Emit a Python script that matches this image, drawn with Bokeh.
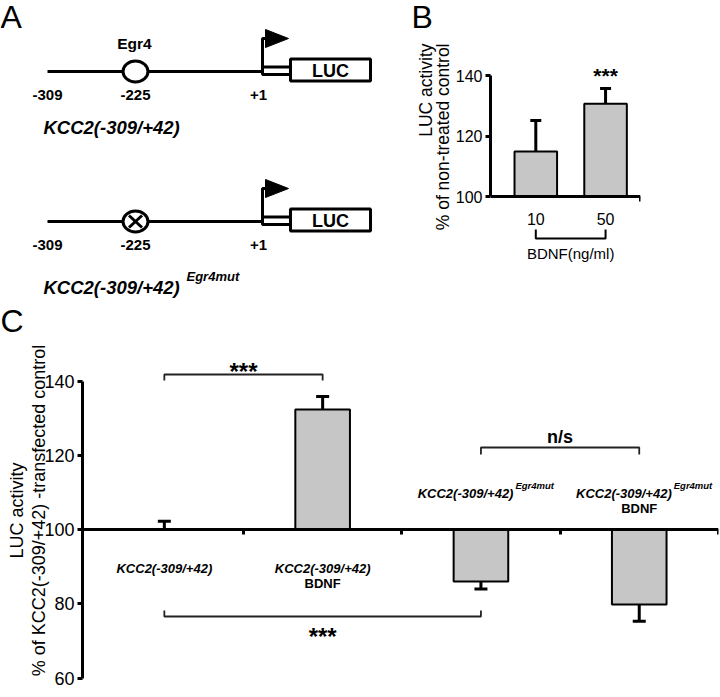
import math
from bokeh.plotting import figure
from bokeh.layouts import column, row
from bokeh.models import Range1d, FixedTicker, LinearAxis
from bokeh.core.properties import value
from bokeh.embed import file_html
from bokeh.resources import INLINE

# ---------------- data ----------------
# Panel A: reporter constructs
a_constructs = ["KCC2(-309/+42)", "KCC2(-309/+42)"]
a_superscripts = ["", "Egr4mut"]
a_site_mutated = [False, True]
a_positions = ["-309", "-225", "+1"]
a_site_name = "Egr4"
a_reporter = "LUC"

# Panel B
b_doses = ["10", "50"]
b_means = [114.9, 130.7]
b_errors = [10.2, 5.0]
b_signif = ["", "***"]
b_xlabel = "BDNF(ng/ml)"
b_ylabel = ["LUC activity", "% of non-treated control"]
b_yticks = [100, 120, 140]

# Panel C
c_constructs = ["KCC2(-309/+42)", "KCC2(-309/+42)", "KCC2(-309/+42)", "KCC2(-309/+42)"]
c_superscripts = ["", "", "Egr4mut", "Egr4mut"]
c_treatments = ["", "BDNF", "", "BDNF"]
c_means = [100.0, 132.3, 86.0, 79.8]
c_errors = [2.2, 3.5, 2.0, 4.5]
c_pairs = [(1, 2), (3, 4), (1, 3)]
c_pair_labels = ["***", "n/s", "***"]
c_ylabel = ["LUC activity", "% of KCC2(-309/+42) -transfected control"]
c_yticks = [60, 80, 100, 120, 140]

# ---------------- helpers ----------------
FONT_NAME = "Liberation Sans"
FONT = value(FONT_NAME)
BAR_FILL = "#c6c6c6"


def put_text(p, xs, ys, texts, size, style="normal", align="center",
             baseline="middle", x_offset=0, angle=0):
    p.text(x=xs, y=ys, text=texts, text_font=FONT,
           text_font_size=value(f"{size}px"), text_font_style=style,
           text_align=align, text_baseline=baseline, text_color="black",
           x_offset=x_offset, angle=angle)


def style_plain(p):
    p.grid.visible = False
    p.outline_line_color = None
    p.background_fill_color = "white"
    p.border_fill_color = "white"


def style_axis(ax, label_size=None, tick_out=5, tick_in=0):
    ax.axis_line_width = 3
    ax.axis_line_color = "black"
    ax.major_tick_line_width = 3
    ax.major_tick_line_color = "black"
    ax.major_tick_out = tick_out
    ax.major_tick_in = tick_in
    ax.minor_tick_out = 0
    ax.minor_tick_in = 0
    ax.minor_tick_line_color = None
    ax.major_label_text_font = FONT_NAME
    ax.major_label_text_color = "black"
    if label_size is None:
        ax.major_label_text_font_size = "0px"
        ax.major_label_text_color = None
        ax.major_label_standoff = 0
        ax.axis_label_standoff = 0
    else:
        ax.major_label_text_font_size = f"{label_size}px"


def style_title(ax, text, size, standoff):
    ax.axis_label = text
    ax.axis_label_text_font = FONT_NAME
    ax.axis_label_text_font_size = f"{size}px"
    ax.axis_label_text_font_style = "normal"
    ax.axis_label_text_color = "black"
    ax.axis_label_text_line_height = 1.0
    ax.axis_label_standoff = standoff


# ================= Panel A (diagram; also holds panel B's letter and y-title) =========
TOP_H = 300       # height of the top row
pA = figure(width=452, height=TOP_H, x_range=Range1d(0, 452),
            y_range=Range1d(TOP_H, 0),
            output_backend="svg", toolbar_location=None, min_border=0,
            x_axis_location=None, y_axis_location=None)
style_plain(pA)

row_y = [71, 221]
pos_x = [47, 135, 258]
site_x = 135
tss_x = 262
luc_l, luc_r = 290, 370
title_y = [127, 287]

for i, y0 in enumerate(row_y):
    pA.segment(x0=[47], y0=[y0], x1=[tss_x], y1=[y0], line_width=3, line_color="black")
    pA.ellipse(x=[site_x], y=[y0], width=25, height=21, fill_color="white",
               line_color="black", line_width=3)
    if a_site_mutated[i]:
        pA.segment(x0=[site_x - 6.5, site_x - 6.5], y0=[y0 - 6, y0 + 6],
                   x1=[site_x + 6.5, site_x + 6.5], y1=[y0 + 6, y0 - 6],
                   line_width=3, line_color="black")
    # transcription start arrow
    pA.line(x=[tss_x, tss_x, 267], y=[y0 + 1, y0 - 33, y0 - 33], line_width=3, line_color="black")
    pA.patch(x=[265, 265, 288], y=[y0 - 42, y0 - 24, y0 - 33], fill_color="black", line_color="black")
    # small exon box and reporter
    pA.quad(left=[tss_x], right=[luc_l], top=[y0 - 4.5], bottom=[y0 + 3], fill_color="white",
            line_color="black", line_width=3)
    pA.quad(left=[luc_l], right=[luc_r], top=[y0 - 12.5], bottom=[y0 + 9.5], fill_color="white",
            line_color="black", line_width=3)
    put_text(pA, [(luc_l + luc_r) / 2], [y0 - 1], [a_reporter], 18, style="bold")
    put_text(pA, pos_x, [y0 + 23] * 3, a_positions, 15, style="bold")
    put_text(pA, [43], [title_y[i]], [a_constructs[i]], 18.5, style="bold italic", align="left")
    if a_superscripts[i]:
        put_text(pA, [186], [title_y[i] - 11], [a_superscripts[i]], 13,
                 style="bold italic", align="left")
    if not a_site_mutated[i]:
        put_text(pA, [site_x - 1], [y0 - 28], [a_site_name], 15.5, style="bold")

put_text(pA, [0], [16], ["A"], 32, align="left")
put_text(pA, [411], [16], ["B"], 32, align="left")
# y-axis title of panel B (two lines, right-aligned at the top end)
put_text(pA, [425.5], [43], [b_ylabel[0]], 17.5, align="right", angle=math.pi / 2)
put_text(pA, [442.5], [43], [b_ylabel[1]], 17.5, align="right", angle=math.pi / 2)

# ================= Panel B =================


def bx(xr):
    return 1 + (xr - 534.6) / 70.23


def by(yr):
    return 100 + (196 - yr) / 3.025


pB = figure(width=268, height=TOP_H, x_range=Range1d(bx(489), bx(640)),
            y_range=Range1d(by(TOP_H), by(0)), x_axis_location="above",
            output_backend="svg", toolbar_location=None,
            min_border_left=37, min_border_right=80, min_border_top=0,
            min_border_bottom=0)
style_plain(pB)

yax = pB.yaxis[0]
yax.bounds = (100, 140)
yax.ticker = FixedTicker(ticks=b_yticks)
style_axis(yax, label_size=16)
yax.major_label_standoff = 3

xax = pB.xaxis[0]
xax.fixed_location = 100
xax.ticker = FixedTicker(ticks=[2.5])
style_axis(xax, tick_out=0, tick_in=5)

b_x = list(range(1, len(b_means) + 1))
pB.vbar(x=b_x, bottom=100, top=b_means, width=0.61, fill_color=BAR_FILL,
        line_color="black", line_width=2)
b_tops = [m + e for m, e in zip(b_means, b_errors)]
pB.segment(x0=b_x, y0=b_means, x1=b_x, y1=b_tops, line_width=3, line_color="black")
pB.scatter(x=b_x, y=b_tops, marker="dash", size=11, line_width=3, line_color="black")

put_text(pB, b_x, [by(218)] * len(b_x), b_doses, 16)
pB.line(x=[b_x[0], b_x[0], b_x[-1], b_x[-1]], y=[by(229), by(238), by(238), by(229)],
        line_width=2, line_color="black")
put_text(pB, [(b_x[0] + b_x[-1]) / 2], [by(253)], [b_xlabel], 15)
for xi, s in zip(b_x, b_signif):
    if s:
        put_text(pB, [xi], [by(72 + 0.15 * 21)], [s], 21, style="bold")

# ================= Panel C =================


def cx(xr):
    return 0.483 + (xr - 82) / 158.3


def cy(yr):
    return 100 + (529 - yr) / 3.7125


pC = figure(width=720, height=697 - TOP_H, x_range=Range1d(cx(82), cx(718)),
            y_range=Range1d(cy(680), cy(340)),
            output_backend="svg", toolbar_location=None,
            min_border_left=82, min_border_right=2, min_border_top=340 - TOP_H,
            min_border_bottom=17)
style_plain(pC)
pC.title.text = "C"
pC.title.text_font = FONT_NAME
pC.title.text_font_size = "32px"
pC.title.text_font_style = "normal"
pC.title.text_color = "black"
pC.title.align = "left"
pC.title.vertical_align = "top"
pC.title.offset = -82
pC.title.standoff = 0

yax = pC.yaxis[0]
yax.bounds = (60, 140)
yax.ticker = FixedTicker(ticks=c_yticks)
style_axis(yax, label_size=18)
yax.major_label_standoff = 3
style_title(yax, c_ylabel[1], 18, -8)

# outer (title-only) axis carrying the first line of the y title
outer = LinearAxis(ticker=FixedTicker(ticks=[]))
style_axis(outer, tick_out=0)
outer.axis_line_color = None
outer.major_tick_line_color = None
style_title(outer, c_ylabel[0], 18, 0)
pC.add_layout(outer, "left")

xax = pC.xaxis[0]
xax.fixed_location = 100
xax.ticker = FixedTicker(ticks=[1.5, 2.5, 3.5, 4.5])
style_axis(xax)

c_x = list(range(1, len(c_means) + 1))
pC.vbar(x=c_x, bottom=100, top=c_means, width=0.345, fill_color=BAR_FILL,
        line_color="black", line_width=2)
c_dir = [1 if m >= 100 else -1 for m in c_means]
c_ends = [m + d * e for m, d, e in zip(c_means, c_dir, c_errors)]
pC.segment(x0=c_x, y0=c_means, x1=c_x, y1=c_ends, line_width=3, line_color="black")
pC.scatter(x=c_x, y=c_ends, marker="dash", size=13, line_width=3, line_color="black")

# category labels (placed on the side opposite to the bar)
for xi, m, name, sup, tr in zip(c_x, c_means, c_constructs, c_superscripts, c_treatments):
    if m >= 100:
        y_main, y_tr = cy(568), cy(583)
    else:
        y_main, y_tr = cy(493), cy(508)
    if sup:
        put_text(pC, [xi], [y_main], [name], 13, style="bold italic", align="right", x_offset=32.5)
        put_text(pC, [xi], [y_main + 8 / 3.7125], [sup], 9.5, style="bold italic", align="left",
                 x_offset=34.5)
    else:
        put_text(pC, [xi], [y_main], [name], 13, style="bold italic")
    if tr:
        put_text(pC, [xi], [y_tr], [tr], 13, style="bold")

# comparison brackets
bracket_y = [374, 447, 616]
bracket_tip = [380, 454, 610]
bracket_lab = [367, 435, 632]
for (a, b), lab, yb, yt, yl in zip(c_pairs, c_pair_labels, bracket_y, bracket_tip, bracket_lab):
    pC.line(x=[a, a, b, b], y=[cy(yt), cy(yb), cy(yb), cy(yt)], line_width=1.8, line_color="#222222")
    if lab == "***":
        put_text(pC, [(a + b) / 2], [cy(yl + 0.15 * 24)], [lab], 24, style="bold")
    else:
        put_text(pC, [(a + b) / 2], [cy(yl + 1)], [lab], 18, style="bold")

layout = column(row(pA, pB, spacing=0), pC, spacing=0)
open("out.html", "w").write(file_html(layout, INLINE))
